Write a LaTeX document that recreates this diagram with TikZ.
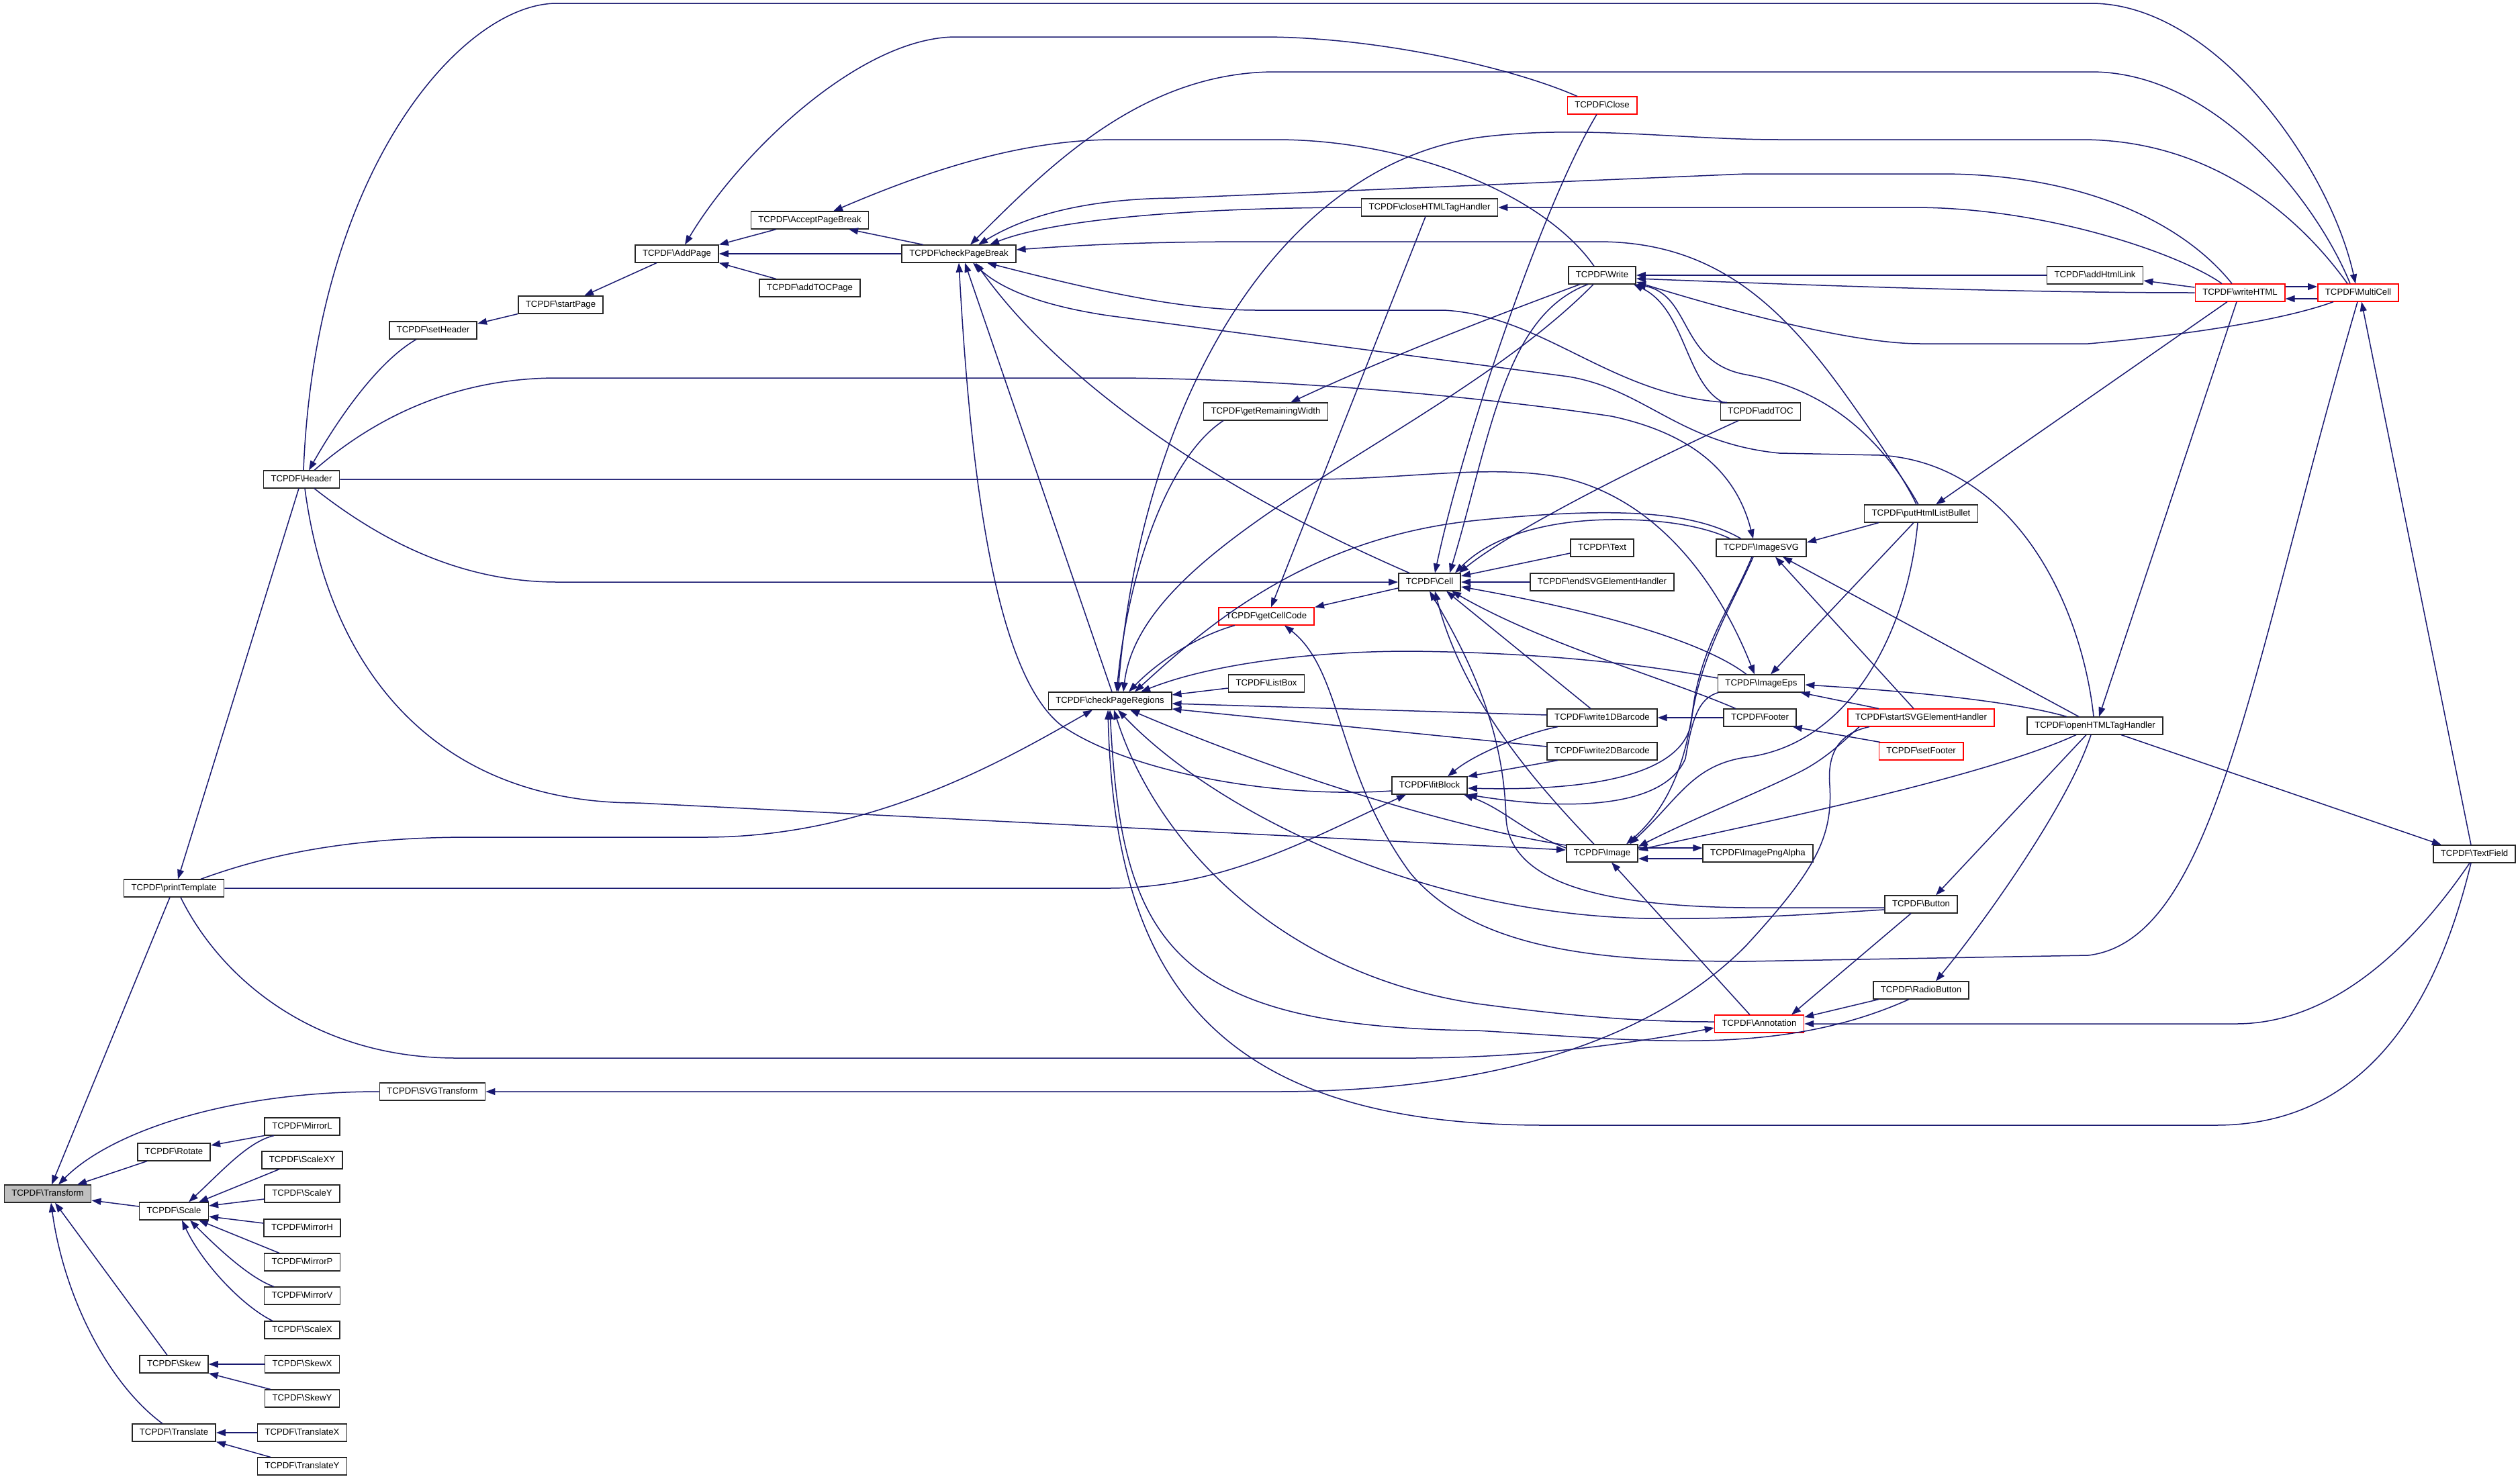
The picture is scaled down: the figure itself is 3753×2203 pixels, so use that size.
\documentclass[tikz,border=0pt]{standalone}
\usepackage{fontspec}
\setmainfont{Liberation Sans}
\usetikzlibrary{arrows.meta}
\definecolor{edgeblue}{RGB}{25,25,112}
\definecolor{nodegrey}{RGB}{191,191,191}
\newcommand{\TBS}{\textbackslash}
\begin{document}
\begin{tikzpicture}[x=1pt,y=-1pt,
 box/.style={draw=black!85, line width=1.6pt, fill=white, font=\fontsize{13.2}{15.8}\selectfont, inner xsep=11pt, inner ysep=0pt, minimum height=25.5pt, text height=9.5pt, text depth=2.6pt},
 redbox/.style={box, draw=red},
 edg/.style={draw=edgeblue, line width=1.5pt, {Triangle[length=14pt,width=10pt]}-},
]
\fill[white] (0,0) rectangle (3753,2203);
\useasboundingbox (0,0) rectangle (3753,2203);

% ---------- nodes ----------
\node[box, fill=nodegrey] (Transform) at (71,1778) {TCPDF\TBS Transform};
\node[box] (Rotate) at (259,1716) {TCPDF\TBS Rotate};
\node[box] (Scale) at (259,1804) {TCPDF\TBS Scale};
\node[box] (Skew) at (259,2032) {TCPDF\TBS Skew};
\node[box] (Translate) at (259,2134) {TCPDF\TBS Translate};
\node[box] (MirrorL) at (450,1678) {TCPDF\TBS MirrorL};
\node[box] (ScaleXY) at (450,1728) {TCPDF\TBS ScaleXY};
\node[box] (ScaleY) at (450,1778) {TCPDF\TBS ScaleY};
\node[box] (MirrorH) at (450,1829) {TCPDF\TBS MirrorH};
\node[box] (MirrorP) at (450,1880) {TCPDF\TBS MirrorP};
\node[box] (MirrorV) at (450,1930) {TCPDF\TBS MirrorV};
\node[box] (ScaleX) at (450,1981) {TCPDF\TBS ScaleX};
\node[box] (SkewX) at (450,2032) {TCPDF\TBS SkewX};
\node[box] (SkewY) at (450,2083) {TCPDF\TBS SkewY};
\node[box] (TranslateX) at (450,2134) {TCPDF\TBS TranslateX};
\node[box] (TranslateY) at (450,2184) {TCPDF\TBS TranslateY};
\node[box] (SVGTransform) at (644,1626) {TCPDF\TBS SVGTransform};
\node[box] (printTemplate) at (259,1323) {TCPDF\TBS printTemplate};
\node[box] (Header) at (449,714) {TCPDF\TBS Header};
\node[box] (setHeader) at (645,492) {TCPDF\TBS setHeader};
\node[box] (startPage) at (835,454) {TCPDF\TBS startPage};
\node[box] (AddPage) at (1008,378) {TCPDF\TBS AddPage};
\node[box] (AcceptPageBreak) at (1206,328) {TCPDF\TBS AcceptPageBreak};
\node[box] (addTOCPage) at (1206,429) {TCPDF\TBS addTOCPage};
\node[box] (checkPageBreak) at (1428,378) {TCPDF\TBS checkPageBreak};
\node[box] (checkPageRegions) at (1653,1044) {TCPDF\TBS checkPageRegions};
\node[box] (getRemainingWidth) at (1885,613) {TCPDF\TBS getRemainingWidth};
\node[redbox] (getCellCode) at (1886,918) {TCPDF\TBS getCellCode};
\node[box] (ListBox) at (1886,1018) {TCPDF\TBS ListBox};
\node[box] (closeHTMLTagHandler) at (2129,309) {TCPDF\TBS closeHTMLTagHandler};
\node[box] (Cell) at (2129,867) {TCPDF\TBS Cell};
\node[box] (fitBlock) at (2129,1170) {TCPDF\TBS fitBlock};
\node[redbox] (Close) at (2386,157) {TCPDF\TBS Close};
\node[box] (Write) at (2386,410) {TCPDF\TBS Write};
\node[box] (Text) at (2386,816) {TCPDF\TBS Text};
\node[box] (endSVGElementHandler) at (2386,867) {TCPDF\TBS endSVGElementHandler};
\node[box] (write1DBarcode) at (2386,1069) {TCPDF\TBS write1DBarcode};
\node[box] (write2DBarcode) at (2386,1119) {TCPDF\TBS write2DBarcode};
\node[box] (Image) at (2386,1271) {TCPDF\TBS Image};
\node[box] (addTOC) at (2622,613) {TCPDF\TBS addTOC};
\node[box] (ImageSVG) at (2623,816) {TCPDF\TBS ImageSVG};
\node[box] (ImageEps) at (2623,1018) {TCPDF\TBS ImageEps};
\node[box] (Footer) at (2621,1069) {TCPDF\TBS Footer};
\node[box] (ImagePngAlpha) at (2618,1271) {TCPDF\TBS ImagePngAlpha};
\node[redbox] (Annotation) at (2620,1525) {TCPDF\TBS Annotation};
\node[box] (putHtmlListBullet) at (2861,765) {TCPDF\TBS putHtmlListBullet};
\node[redbox] (startSVGElementHandler) at (2861,1069) {TCPDF\TBS startSVGElementHandler};
\node[redbox] (setFooter) at (2861,1119) {TCPDF\TBS setFooter};
\node[box] (Button) at (2861,1347) {TCPDF\TBS Button};
\node[box] (RadioButton) at (2861,1475) {TCPDF\TBS RadioButton};
\node[box] (addHtmlLink) at (3120,410) {TCPDF\TBS addHtmlLink};
\node[box] (openHTMLTagHandler) at (3120,1081) {TCPDF\TBS openHTMLTagHandler};
\node[redbox] (writeHTML) at (3336,436) {TCPDF\TBS writeHTML};
\node[redbox] (MultiCell) at (3512,436) {TCPDF\TBS MultiCell};
\node[box] (TextField) at (3685,1272) {TCPDF\TBS TextField};

% ---------- edges (arrow at first node) ----------
\draw[edg] ([xshift=6pt]Transform.north) -- ([xshift=-6pt]printTemplate.south);
\draw[edg] ([xshift=16pt]Transform.north) .. controls (160,1690) and (330,1626) .. (SVGTransform.west);
\draw[edg] ([xshift=44pt]Transform.north) -- ([xshift=-40pt]Rotate.south);
\draw[edg] ([yshift=-10pt]Transform.east) -- ([yshift=7pt]Scale.west);
\draw[edg] ([xshift=11pt]Transform.south) -- ([xshift=-10pt]Skew.north);
\draw[edg] ([xshift=5pt]Transform.south) .. controls (95,1930) and (160,2060) .. ([xshift=-17pt]Translate.north);
\draw[edg] ([yshift=10pt]Rotate.east) -- (MirrorL.south west);
\draw[edg] ([xshift=22pt]Scale.north) .. controls (330,1745) and (370,1700) .. ([xshift=-42pt]MirrorL.south);
\draw[edg] ([xshift=37pt]Scale.north) -- ([xshift=-34pt]ScaleXY.south);
\draw[edg] ([yshift=8pt]Scale.east) -- ([yshift=-8pt]ScaleY.west);
\draw[edg] ([yshift=-8pt]Scale.east) -- ([yshift=7pt]MirrorH.west);
\draw[edg] ([xshift=37pt]Scale.south) -- ([xshift=-34pt]MirrorP.north);
\draw[edg] ([xshift=24pt]Scale.south) .. controls (330,1865) and (375,1905) .. ([xshift=-42pt]MirrorV.north);
\draw[edg] ([xshift=12pt]Scale.south) .. controls (300,1880) and (360,1945) .. ([xshift=-44pt]ScaleX.north);
\draw[edg] (Skew.east) -- (SkewX.west);
\draw[edg] (Skew.south east) -- ([xshift=-47pt]SkewY.north);
\draw[edg] (Translate.east) -- (TranslateX.west);
\draw[edg] (Translate.south east) -- ([xshift=-47pt]TranslateY.north);
\draw[edg] (SVGTransform.east) -- (1900,1626) .. controls (2200,1626) and (2450,1560) .. (2600,1409) .. controls (2700,1300) and (2730,1250) .. (2725,1170) .. controls (2720,1110) and (2750,1090) .. ([xshift=-77pt]startSVGElementHandler.south);

\draw[edg] ([xshift=6pt]printTemplate.north) -- ([xshift=-4pt]Header.south);
\draw[edg] ([xshift=-35pt]fitBlock.south) .. controls (1950,1250) and (1820,1323) .. (1650,1323) -- (printTemplate.east);
\draw[edg] ([xshift=-26pt]checkPageRegions.south) .. controls (1500,1130) and (1300,1247) .. (1050,1247) -- (700,1247) .. controls (500,1247) and (380,1280) .. ([xshift=40pt]printTemplate.north);
\draw[edg] ([yshift=-6pt]Annotation.west) .. controls (2400,1560) and (2250,1576) .. (2100,1576) -- (680,1576) .. controls (470,1576) and (330,1460) .. ([xshift=10pt]printTemplate.south);

\draw[edg] ([xshift=11pt]Header.north) .. controls (500,630) and (560,540) .. ([xshift=-25pt]setHeader.south);
\draw[edg] ([xshift=-4pt]MultiCell.north) .. controls (3470,250) and (3300,5) .. (3114,5) -- (829,5) .. controls (690,5) and (470,250) .. ([xshift=3pt]Header.north);
\draw[edg] (Cell.west) -- (830,867) .. controls (680,867) and (560,800) .. ([xshift=19pt]Header.south);
\draw[edg] ([xshift=-12pt]ImageSVG.north) .. controls (2590,720) and (2540,650) .. (2400,620) .. controls (2200,590) and (1900,563) .. (1650,563) -- (830,563) .. controls (680,563) and (560,620) .. ([xshift=19pt]Header.north);
\draw[edg] ([xshift=-10pt]ImageEps.north) .. controls (2560,870) and (2470,745) .. (2330,712) .. controls (2220,690) and (2100,714) .. (1950,714) -- (Header.east);
\draw[edg] ([yshift=5pt]Image.west) -- (950,1196) .. controls (650,1196) and (490,1000) .. ([xshift=5pt]Header.south);

\draw[edg] ([yshift=10pt]setHeader.east) -- (startPage.south west);
\draw[edg] ([xshift=35pt]startPage.north) -- ([xshift=-30pt]AddPage.south);
\draw[edg] (AddPage.north east) -- ([xshift=-50pt]AcceptPageBreak.south);
\draw[edg] (AddPage.south east) -- ([xshift=-50pt]addTOCPage.north);
\draw[edg] (AddPage.east) -- (checkPageBreak.west);
\draw[edg] ([xshift=12pt]AddPage.north) .. controls (1100,230) and (1280,55) .. (1424,55) -- (1880,55) .. controls (2050,55) and (2250,100) .. ([xshift=-37pt]Close.north);
\draw[edg] ([xshift=58pt]AcceptPageBreak.south) -- ([xshift=-53pt]checkPageBreak.north);
\draw[edg] ([xshift=35pt]AcceptPageBreak.north) .. controls (1380,255) and (1520,208) .. (1660,208) -- (1900,208) .. controls (2100,208) and (2300,290) .. ([xshift=-12pt]Write.north);

\draw[edg] ([xshift=17pt]checkPageBreak.north) .. controls (1560,250) and (1700,107) .. (1900,107) -- (3114,107) .. controls (3300,107) and (3450,300) .. ([xshift=-12pt]MultiCell.north);
\draw[edg] ([xshift=12pt]checkPageRegions.north) .. controls (1700,600) and (1900,250) .. (2200,205) .. controls (2350,185) and (2500,208) .. (2650,208) -- (3100,208) .. controls (3300,208) and (3430,330) .. ([xshift=-16pt]MultiCell.north);
\draw[edg] ([xshift=29pt]checkPageBreak.north) .. controls (1530,320) and (1620,296) .. (1750,295) -- (2600,259) -- (2890,259) .. controls (3100,259) and (3250,330) .. ([xshift=-12pt]writeHTML.north);
\draw[edg] (closeHTMLTagHandler.east) -- (2850,309) .. controls (3050,309) and (3250,380) .. ([xshift=-27pt]writeHTML.north);
\draw[edg] ([xshift=46pt]checkPageBreak.north) .. controls (1560,330) and (1750,309) .. (closeHTMLTagHandler.west);
\draw[edg] ([yshift=6pt]checkPageBreak.east) .. controls (1650,362) and (1750,360) .. (1880,360) -- (2380,360) .. controls (2550,360) and (2650,450) .. (2750,590) .. controls (2800,660) and (2840,720) .. ([xshift=-7pt]putHtmlListBullet.north);
\draw[edg] ([xshift=42pt]checkPageBreak.south) .. controls (1600,425) and (1750,462) .. (1870,462) -- (2150,462) .. controls (2300,470) and (2400,590) .. ([xshift=-50pt]addTOC.north);
\draw[edg] ([xshift=21pt]checkPageBreak.south) .. controls (1490,430) and (1550,455) .. (1650,470) -- (2336,561) .. controls (2450,580) and (2500,660) .. (2650,675) -- (2800,678) .. controls (3000,690) and (3100,900) .. ([xshift=-2pt]openHTMLTagHandler.north);
\draw[edg] ([xshift=25pt]checkPageBreak.south) .. controls (1530,500) and (1700,680) .. ([xshift=-30pt]Cell.north);
\draw[edg] ([xshift=9pt]checkPageBreak.south) -- ([xshift=3pt]checkPageRegions.north);
\draw[edg] (checkPageBreak.south) .. controls (1445,700) and (1480,1000) .. (1580,1080) .. controls (1680,1150) and (1900,1190) .. ([yshift=-8pt]fitBlock.west);

\draw[edg] ([xshift=8pt]Cell.north) .. controls (2180,650) and (2300,300) .. ([xshift=-8pt]Close.south);
\draw[edg] ([xshift=30pt]Cell.north) .. controls (2220,650) and (2240,470) .. ([xshift=-21pt]Write.south);
\draw[edg] ([xshift=20pt]checkPageRegions.north) .. controls (1700,800) and (2150,650) .. ([xshift=-13pt]Write.south);
\draw[edg] ([xshift=37pt]getRemainingWidth.north) .. controls (2050,540) and (2200,480) .. ([xshift=-33pt]Write.south);
\draw[edg] ([xshift=10pt]checkPageRegions.north) .. controls (1680,850) and (1740,680) .. ([xshift=-63pt]getRemainingWidth.south);
\draw[edg] (Write.east) -- (addHtmlLink.west);
\draw[edg] ([yshift=-5pt]Write.east) .. controls (2700,425) and (3000,436) .. (writeHTML.west);
\draw[edg] ([yshift=-10pt]Write.east) .. controls (2550,455) and (2750,512) .. (2860,512) -- (3110,512) .. controls (3300,495) and (3420,470) .. ([xshift=-37pt]MultiCell.south);
\draw[edg] (Write.south east) .. controls (2520,440) and (2500,540) .. (2600,558) .. controls (2720,580) and (2800,650) .. ([xshift=-4pt]putHtmlListBullet.north);
\draw[edg] ([xshift=-4pt]Write.south east) .. controls (2510,460) and (2510,570) .. ([xshift=-56pt]addTOC.north);

\draw[edg] ([yshift=-8pt]addHtmlLink.east) -- ([yshift=8pt]writeHTML.west);
\draw[edg] ([yshift=9pt]MultiCell.west) -- ([yshift=9pt]writeHTML.east);
\draw[edg] ([yshift=-9pt]writeHTML.east) -- ([yshift=-9pt]MultiCell.west);
\draw[edg] ([xshift=22pt]putHtmlListBullet.north) -- ([xshift=-19pt]writeHTML.south);
\draw[edg] ([xshift=6pt]openHTMLTagHandler.north) -- ([xshift=-5pt]writeHTML.south);
\draw[edg] ([xshift=7pt]getCellCode.north) -- ([xshift=-6pt]closeHTMLTagHandler.south);
\draw[edg] ([xshift=5pt]MultiCell.south) -- ([xshift=-5pt]TextField.north);
\draw[edg] ([xshift=27pt]getCellCode.south) .. controls (2000,1000) and (1990,1150) .. (2100,1300) .. controls (2200,1420) and (2400,1432) .. (2600,1432) -- (3110,1423) .. controls (3300,1400) and (3350,1000) .. ([xshift=-1pt]MultiCell.south);

\draw[edg] ([yshift=9pt]Cell.east) -- ([yshift=-8pt]Text.west);
\draw[edg] (Cell.east) -- (endSVGElementHandler.west);
\draw[edg] (getCellCode.north east) -- ([yshift=-9pt]Cell.west);
\draw[edg] ([xshift=38pt]Cell.north) .. controls (2220,800) and (2300,775) .. (2400,774) .. controls (2480,773) and (2540,785) .. ([xshift=-46pt]ImageSVG.north);
\draw[edg] ([xshift=44pt]Cell.north) .. controls (2250,790) and (2450,690) .. ([xshift=-33pt]addTOC.south);
\draw[edg] ([yshift=-7pt]Cell.east) .. controls (2350,905) and (2530,950) .. ([xshift=-22pt]ImageEps.north);
\draw[edg] ([xshift=25pt]Cell.south) -- ([xshift=-17pt]write1DBarcode.north);
\draw[edg] ([xshift=33pt]Cell.south) .. controls (2300,960) and (2480,1010) .. ([xshift=-36pt]Footer.north);
\draw[edg] ([xshift=8pt]Cell.south) .. controls (2180,1050) and (2300,1180) .. ([xshift=-12pt]Image.north);
\draw[edg] (Cell.south) .. controls (2200,1000) and (2240,1100) .. (2243,1220) .. controls (2250,1320) and (2400,1350) .. (2600,1352) -- ([yshift=-5pt]Button.west);

\draw[edg] ([xshift=27pt]fitBlock.north) .. controls (2200,1120) and (2280,1090) .. ([xshift=-66pt]write1DBarcode.south);
\draw[edg] (fitBlock.north east) -- ([xshift=-66pt]write2DBarcode.south);
\draw[edg] ([yshift=-4pt]fitBlock.east) .. controls (2350,1178) and (2500,1160) .. (2518,1080) .. controls (2530,980) and (2580,900) .. ([xshift=-12pt]ImageSVG.south);
\draw[edg] ([xshift=36pt]Image.north) .. controls (2500,1190) and (2515,1100) .. (2522,1050) .. controls (2535,960) and (2580,900) .. ([xshift=-14pt]ImageSVG.south);
\draw[edg] (fitBlock.south east) .. controls (2350,1210) and (2480,1200) .. (2510,1130) .. controls (2520,1070) and (2530,1040) .. ([xshift=-64pt]ImageEps.south);
\draw[edg] ([xshift=-6pt]fitBlock.south east) .. controls (2240,1205) and (2270,1240) .. ([yshift=8pt]Image.west);

\draw[edg] ([yshift=8pt]ImagePngAlpha.west) -- ([yshift=8pt]Image.east);
\draw[edg] ([yshift=-8pt]Image.east) -- ([yshift=-8pt]ImagePngAlpha.west);
\draw[edg] ([xshift=14pt]Image.south) -- ([xshift=-14pt]Annotation.north);
\draw[edg] ([xshift=41pt]Image.north) .. controls (2500,1190) and (2520,1140) .. (2600,1128) .. controls (2750,1110) and (2840,950) .. ([xshift=-5pt]putHtmlListBullet.south);
\draw[edg] ([yshift=10pt]Image.east) .. controls (2520,1220) and (2620,1180) .. (2680,1150) .. controls (2720,1130) and (2750,1100) .. ([xshift=-92pt]startSVGElementHandler.south);
\draw[edg] ([yshift=5pt]Image.east) .. controls (2600,1230) and (2950,1160) .. ([xshift=-28pt]openHTMLTagHandler.south);

\draw[edg] ([yshift=8pt]ImageSVG.east) -- ([xshift=-63pt]putHtmlListBullet.south);
\draw[edg] ([xshift=14pt]ImageEps.north) -- ([xshift=-11pt]putHtmlListBullet.south);
\draw[edg] ([xshift=21pt]ImageSVG.south) -- ([xshift=-11pt]startSVGElementHandler.north);
\draw[edg] ([xshift=-7pt]ImageEps.south east) -- ([xshift=-63pt]startSVGElementHandler.north);
\draw[edg] ([xshift=32pt]ImageSVG.south) -- ([xshift=-24pt]openHTMLTagHandler.north);
\draw[edg] ([yshift=-2pt]ImageEps.east) .. controls (2850,1030) and (3000,1045) .. ([xshift=-42pt]openHTMLTagHandler.north);
\draw[edg] ([xshift=22pt]Button.north) -- ([xshift=-13pt]openHTMLTagHandler.south);
\draw[edg] ([xshift=22pt]RadioButton.north) .. controls (2950,1380) and (3080,1200) .. ([xshift=-6pt]openHTMLTagHandler.south);
\draw[edg] ([xshift=-49pt]TextField.north) -- ([xshift=39pt]openHTMLTagHandler.south);
\draw[edg] (write1DBarcode.east) -- (Footer.west);
\draw[edg] ([xshift=-6pt]Footer.south east) -- ([xshift=-61pt]setFooter.north);

\draw[edg] ([yshift=9pt]checkPageRegions.east) -- ([yshift=-7pt]ListBox.west);
\draw[edg] ([yshift=-4pt]checkPageRegions.east) -- ([yshift=4pt]write1DBarcode.west);
\draw[edg] ([yshift=-12pt]checkPageRegions.east) -- ([yshift=7pt]write2DBarcode.west);
\draw[edg] ([xshift=28pt]checkPageRegions.north) .. controls (1730,980) and (1790,945) .. ([xshift=-47pt]getCellCode.south);
\draw[edg] ([xshift=37pt]checkPageRegions.north) .. controls (1800,930) and (1950,800) .. (2200,775) .. controls (2400,755) and (2520,760) .. ([xshift=-30pt]ImageSVG.north);
\draw[edg] ([xshift=46pt]checkPageRegions.north) .. controls (1800,990) and (1950,970) .. (2100,970) .. controls (2300,972) and (2450,990) .. ([yshift=8pt]ImageEps.west);
\draw[edg] ([xshift=30pt]checkPageRegions.south) .. controls (1900,1150) and (2150,1230) .. ([yshift=12pt]Image.west);
\draw[edg] ([xshift=12pt]checkPageRegions.south) .. controls (1800,1200) and (2100,1360) .. (2450,1368) .. controls (2600,1370) and (2720,1360) .. ([yshift=-8pt]Button.west);
\draw[edg] ([xshift=6pt]checkPageRegions.south) .. controls (1720,1250) and (1900,1450) .. (2200,1495) .. controls (2350,1515) and (2450,1522) .. ([yshift=3pt]Annotation.west);
\draw[edg] (checkPageRegions.south) .. controls (1670,1400) and (1740,1530) .. (2200,1535) .. controls (2450,1550) and (2650,1575) .. ([xshift=-18pt]RadioButton.south);
\draw[edg] ([xshift=-3pt]checkPageRegions.south) .. controls (1660,1450) and (1800,1676) .. (2300,1676) -- (3300,1676) .. controls (3550,1676) and (3640,1450) .. ([xshift=-5pt]TextField.south);

\draw[edg] ([xshift=48pt]Annotation.north) -- ([xshift=-15pt]Button.south);
\draw[edg] ([yshift=10pt]Annotation.east) -- ([xshift=-63pt]RadioButton.south);
\draw[edg] (Annotation.east) -- (3330,1525) .. controls (3480,1525) and (3600,1400) .. ([xshift=-7pt]TextField.south);
\end{tikzpicture}
\end{document}
